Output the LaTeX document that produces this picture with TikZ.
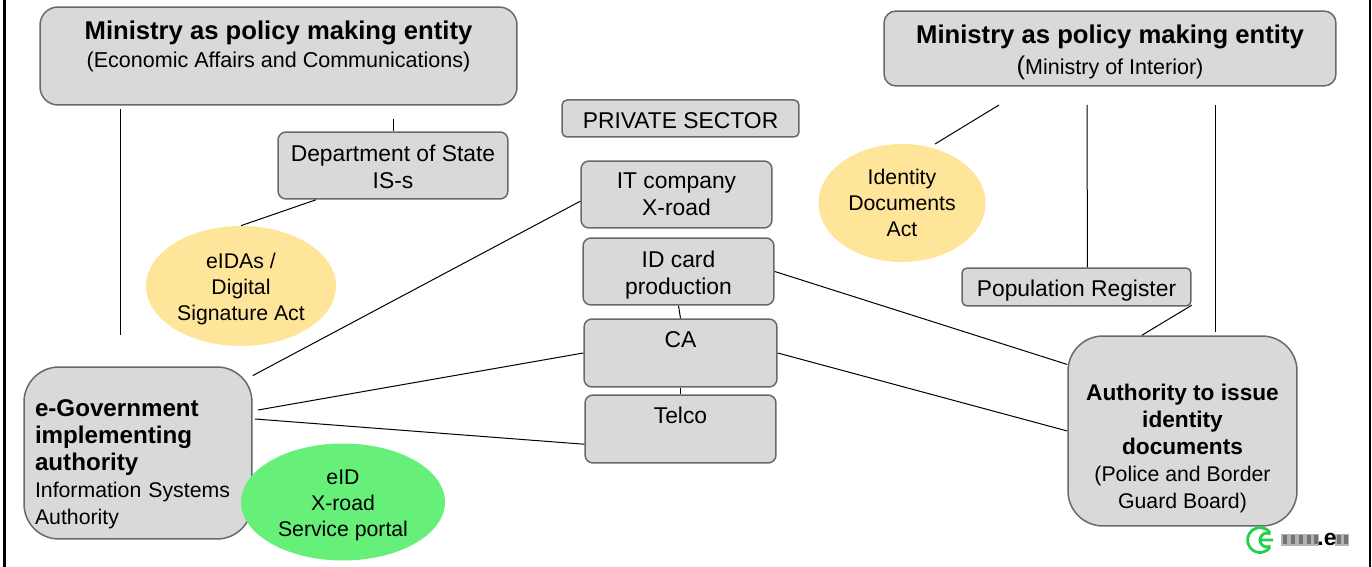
\documentclass[tikz,border=0pt]{standalone}
\usepackage{fontspec}
\setmainfont{Liberation Sans}
\usepackage{tikz}
\usetikzlibrary{shapes.geometric}
\definecolor{boxgray}{RGB}{217, 217, 217}
\definecolor{edgegray}{RGB}{105, 105, 105}
\definecolor{lawyellow}{RGB}{255, 229, 153}
\definecolor{eidgreen}{RGB}{102, 240, 122}
\definecolor{logogreen}{RGB}{30, 210, 70}
\newcommand{\sized}[1]{\fontsize{#1}{15.4}\selectfont}
\newcommand{\bigfont}{\sized{14.6}\bfseries}
\tikzset{
  box/.style={draw=edgegray,fill=boxgray,line width=.03cm,rounded corners=.16cm,align=center,inner sep=0pt,
    font=\sized{13}},
  law/.style={ellipse,fill=lawyellow,align=center,inner sep=0pt,font=\fontsize{12.1}{14.8}\selectfont},
  link/.style={line width=.02cm,black},
  frameline/.style={line width=.05cm,black}
}
\begin{document}
\begin{tikzpicture}[x=.02cm,y=-.02cm]
\useasboundingbox (0,0) rectangle (1372,567);
% frame
\draw[frameline] (4.5,0)--(4.5,567);
\draw[frameline] (1370,0)--(1370,567);
% ministries
\node[box,rounded corners=.36cm,minimum width=9.54cm,minimum height=1.96cm] (ministryA) at (278.5,56)
  {{\bigfont Ministry as policy making entity}\\[.5pt]{\sized{12.25}(Economic Affairs and Communications)}\\[-2pt]\ };
\node[box,rounded corners=.24cm,minimum width=9.04cm,minimum height=1.5cm] (ministryB) at (1110,48.5)
  {\rule{0pt}{15pt}{\bigfont Ministry as policy making entity}\\[2pt]{\sized{14.6}(}{\sized{12.25}Ministry of Interior)}};
\node[box,minimum width=4.6cm,minimum height=1.34cm] (dept) at (393,165.5) {\rule{0pt}{11pt}Department of State\\IS-s};
% private sector
\node[box,rounded corners=.1cm,minimum width=4.74cm,minimum height=.74cm] (private) at (680.5,118.5) {\rule{0pt}{11.5pt}PRIVATE SECTOR};
\node[box,minimum width=3.82cm,minimum height=1.34cm] (itco) at (676.5,194.5) {IT company\\X-road};
\node[box,minimum width=3.82cm,minimum height=1.34cm] (idcard) at (678.5,271.5) {\rule{0pt}{14pt}ID card\\production};
\node[box,minimum width=3.86cm,minimum height=1.36cm] (ca) at (680.5,353) {CA\\\ };
\node[box,minimum width=3.82cm,minimum height=1.36cm] (telco) at (680.5,429) {Telco\\\ };
% right side
\node[box,rounded corners=.1cm,minimum width=4.58cm,minimum height=.76cm] (popreg) at (1076.5,287) {\rule{0pt}{13pt}Population Register};
\node[box,rounded corners=.7cm,minimum width=4.58cm,minimum height=3.8cm,font=\sized{12.1}] (authority) at (1182.5,431)
  {\rule{0pt}{29pt}{\sized{12.9}\bfseries Authority to issue}\\{\sized{12.9}\bfseries identity}\\{\sized{12.9}\bfseries documents}\\(Police and Border\\Guard Board)};
\node[box,rounded corners=.7cm,align=left,inner xsep=.22cm,text width=4.12cm,minimum height=3.44cm,font=\sized{12.1}] (egov) at (138,453)
  {\rule{0pt}{22.5pt}{\sized{13.75}\bfseries e-Government}\\{\sized{13.75}\bfseries implementing}\\{\sized{13.75}\bfseries authority}\\Information Systems\\Authority};
% ellipses
\node[law,minimum width=3.8cm,minimum height=2.4cm] (eidas) at (241,286) {\rule{0pt}{12pt}eIDAs /\\Digital\\Signature Act};
\node[law,minimum width=3.34cm,minimum height=2.36cm] (iddocs) at (902,203) {Identity\\Documents\\Act};
\node[law,fill=eidgreen,minimum width=4.08cm,minimum height=2.34cm] (eid) at (343,502) {\rule{0pt}{12pt}eID\\X-road\\Service portal};
% free ends
\coordinate (ministryAleft) at (120.5,109);
\coordinate (egovtop) at (120.5,335);
\coordinate (ministryAmid) at (393,119);
\coordinate (egovca) at (258,410);
\coordinate (egovtelco) at (255,419);
\coordinate (ministryBleft) at (999,105);
\coordinate (iddocstop) at (935,144);
\coordinate (ministryBmid) at (1087,105);
\coordinate (ministryBright) at (1215.5,105);
\coordinate (authoritytop) at (1215.5,332);
% connectors
\draw[link] (ministryAleft)--(egovtop);
\draw[link] (ministryAmid)--(dept.north);
\draw[link] (dept.204)--(eidas.north);
\draw[link] (itco.184)--(egov.34.5);
\draw[link] (idcard.south)--(ca.north);
\draw[link] (ca.south)--(telco.north);
\draw[link] (idcard.east)--(authority.150.8);
\draw[link] (ca.east)--(authority.west);
\draw[link] (ca.west)--(egovca);
\draw[link] (telco.189.5)--(egovtelco);
\draw[link] (ministryBleft)--(iddocstop);
\draw[link] (ministryBmid)--(popreg.61);
\draw[link] (ministryBright)--(authoritytop);
\draw[link] (popreg.-9.75)--(authority.113);
% logo
\draw[logogreen,line width=.055cm] (1270,532.5) arc (-37:-323:12.5);
\draw[logogreen,line width=.055cm] (1273,540)--(1260,540) arc (-180:-300:7);
\draw[logogreen,line width=.055cm] (1260,540) arc (-180:-60:7);
\fill[gray!60] (1281,534) rectangle (1319,546);
\fill[gray!60] (1335,534) rectangle (1349,546);
\foreach \x in {1283,1291,1299,1307,1314,1337,1344}
  \fill[black!55] (\x,535) rectangle +(4,9);
\node[inner sep=0pt,font=\fontsize{13}{13}\selectfont\bfseries] (logotext) at (1327,539) {.e};
\end{tikzpicture}
\end{document}
